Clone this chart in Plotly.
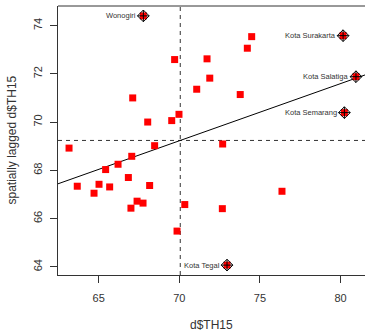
import numpy as np
import plotly.graph_objects as go

# Moran scatterplot of TH15: each region's value against its spatially lagged value
th15 = [67.77, 69.71, 67.11, 68.04, 69.53, 69.98, 63.16, 68.47, 67.05, 66.20,
        65.43, 63.67, 65.02, 64.71, 65.68, 66.84, 68.16, 67.38, 67.75, 67.00,
        69.86, 74.49, 74.22, 71.72, 71.89, 71.08, 73.78, 72.69, 80.16, 80.96,
        80.24, 70.34, 72.67, 76.37, 72.96]
lag_th15 = [74.40, 72.59, 71.00, 70.00, 70.06, 70.32, 68.92, 69.02, 68.58, 68.25,
            68.03, 67.34, 67.42, 67.05, 67.31, 67.70, 67.37, 66.72, 66.64, 66.43,
            65.48, 73.54, 73.06, 72.62, 71.82, 71.36, 71.14, 69.09, 73.58, 71.88,
            70.39, 66.58, 66.41, 67.13, 64.07]
# influential observations (index -> region name)
influential = {0: "Wonogiri", 28: "Kota Surakarta", 29: "Kota Salatiga",
               30: "Kota Semarang", 34: "Kota Tegal"}

x_ticks = [65, 70, 75, 80]
y_ticks = [64, 66, 68, 70, 72, 74]
x_range = [62.475, 81.52]
y_range = [63.66, 74.81]

x = np.array(th15)
wx = np.array(lag_th15)
slope, intercept = np.polyfit(x, wx, 1)
x_mean, wx_mean = x.mean(), wx.mean()

FONT = "Liberation Sans, Arial, sans-serif"
GREY = "#333333"

fig = go.Figure()

# all observations as red squares
fig.add_trace(go.Scatter(
    x=th15, y=lag_th15, mode="markers",
    marker=dict(symbol="square", size=7, color="#ff0000", line=dict(width=0)),
    hoverinfo="skip", showlegend=False))

# influential points: diamond-plus overlay
idx = list(influential.keys())
fig.add_trace(go.Scatter(
    x=[th15[i] for i in idx], y=[lag_th15[i] for i in idx],
    mode="markers",
    marker=dict(symbol="diamond-cross-open", size=9, color="black",
                line=dict(width=1, color="black")),
    hoverinfo="skip", showlegend=False))

# names of the influential regions, to the left of each point
for i in idx:
    fig.add_annotation(x=th15[i], y=lag_th15[i], text=influential[i],
                       showarrow=False, xanchor="right", yanchor="middle",
                       xshift=-5.5, font=dict(family=FONT, size=7.5, color=GREY))

# regression line across the whole panel
fig.add_shape(type="line", xref="x", yref="y",
              x0=x_range[0], y0=intercept + slope * x_range[0],
              x1=x_range[1], y1=intercept + slope * x_range[1],
              line=dict(color="black", width=1), layer="below")
# mean lines
fig.add_shape(type="line", xref="x", yref="paper", x0=x_mean, x1=x_mean, y0=0, y1=1,
              line=dict(color=GREY, width=1, dash="4px,4px"), layer="below")
fig.add_shape(type="line", xref="paper", yref="y", x0=0, x1=1, y0=wx_mean, y1=wx_mean,
              line=dict(color=GREY, width=1, dash="4px,4px"), layer="below")
# top frame line
fig.add_shape(type="line", xref="paper", yref="paper", x0=0, x1=1, y0=1, y1=1,
              line=dict(color=GREY, width=1))

fig.add_annotation(text="d$TH15", xref="paper", yref="paper", x=0.5, y=0,
                   yshift=-50, showarrow=False, yanchor="middle",
                   font=dict(family=FONT, size=12, color=GREY))
fig.add_annotation(text="spatially lagged d$TH15", xref="paper", yref="paper",
                   x=0, y=0.5, xshift=-47, textangle=-90, showarrow=False,
                   xanchor="center", font=dict(family=FONT, size=12, color=GREY))

fig.update_xaxes(range=x_range, tickvals=x_ticks, ticks="outside", ticklen=7,
                 tickcolor=GREY, showline=True, linecolor=GREY, linewidth=1,
                 showgrid=False, zeroline=False, ticklabelstandoff=6,
                 tickfont=dict(family=FONT, size=11, color=GREY))
fig.update_yaxes(range=y_range, tickvals=y_ticks, ticks="outside", ticklen=7,
                 tickcolor=GREY, showline=True, linecolor=GREY, linewidth=1,
                 showgrid=False, zeroline=False, tickangle=-90, ticklabelstandoff=4,
                 tickfont=dict(family=FONT, size=11, color=GREY))

fig.update_layout(width=365, height=335, margin=dict(l=58, r=0, t=6, b=60),
                  paper_bgcolor="white", plot_bgcolor="white")

fig.write_html("out.html")
